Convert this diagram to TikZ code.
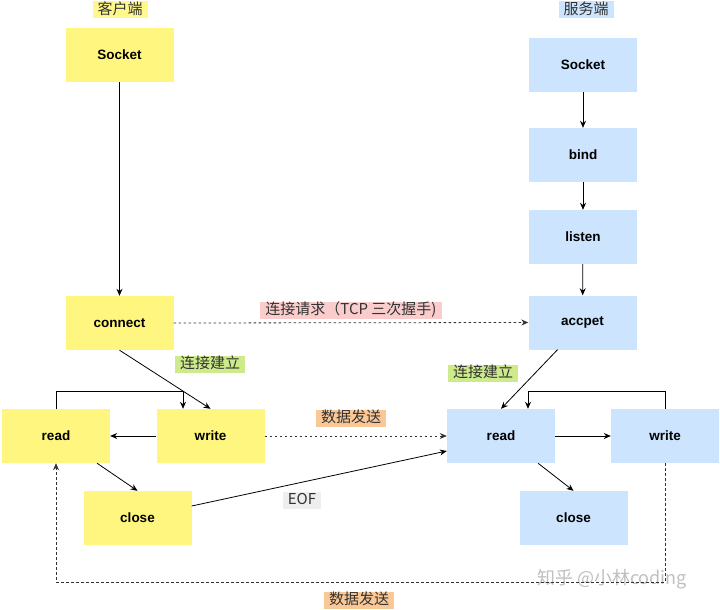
\documentclass[tikz,border=0pt]{standalone}
\usepackage{fontspec}
\setmainfont{Liberation Sans}
\newfontfamily\cjk{Noto Sans CJK SC}
\usetikzlibrary{arrows.meta,calc}
\definecolor{ybox}{RGB}{255,246,128}
\definecolor{bbox}{RGB}{204,228,253}
\definecolor{ylab}{RGB}{255,248,140}
\definecolor{blab}{RGB}{204,228,253}
\definecolor{glab}{RGB}{205,235,139}
\definecolor{plab}{RGB}{250,204,204}
\definecolor{olab}{RGB}{250,200,150}
\definecolor{elab}{RGB}{238,238,238}
\tikzset{
  boxbase/.style={minimum width=108pt,minimum height=54pt,inner sep=0pt,font=\fontsize{13.5}{15}\selectfont\bfseries},
  yb/.style={boxbase,fill=ybox},
  bb/.style={boxbase,fill=bbox},
  lab/.style={inner xsep=5pt,inner ysep=1pt,text height=12pt,text depth=3pt,font=\fontsize{15}{17}\selectfont\cjk,text=black!80},
  arr/.style={-{Stealth[length=7pt,width=6pt]},line width=0.8pt,black},
  darr/.style={arr,dash pattern=on 2.5pt off 2.5pt,black!80},
}
\begin{document}
\begin{tikzpicture}[x=1pt,y=-1pt]
\useasboundingbox (0,0) rectangle (720,610);
% client
\node[lab,fill=ylab] (lc) at (120,10) {客户端};
\node[yb] (csock) at (119.5,55) {Socket};
\node[yb] (conn) at (119.5,323) {connect};
\node[yb] (readc) at (56,436) {read};
\node[yb] (writec) at (210.5,436) {write};
\node[yb] (closec) at (137.5,518) {close};
% server
\node[lab,fill=blab] (ls) at (586,10) {服务端};
\node[bb] (ssock) at (583,65) {Socket};
\node[bb] (bind) at (583,155) {bind};
\node[bb] (listen) at (583,237) {listen};
\node[bb] (acc) at (582.5,322.5) {accpet};
\node[bb] (reads) at (501,436) {read};
\node[bb] (writes) at (665,436) {write};
\node[bb] (closes) at (573.5,518) {close};
% labels
\node[lab,fill=plab] (lreq) at (351,310) {连接请求（TCP 三次握手)};
\node[lab,fill=glab] (lest1) at (210,364) {连接建立};
\node[lab,fill=glab] (lest2) at (483,373) {连接建立};
\node[lab,fill=olab] (ld1) at (351,418) {数据发送};
\node[lab,fill=olab] (ld2) at (359,600) {数据发送};
\node[lab,fill=elab] (leof) at (302,500) {EOF};
\node[font=\fontsize{18}{20}\selectfont\cjk,text=black!25] (wm) at (612,579) {知乎 @小林coding};
\coordinate (loopc) at (183,391);
\coordinate (loops) at (528,391);
\coordinate (bot) at (360,582);
% client arrows
\draw[arr] (csock) -- (conn);
\draw[arr] (conn.south) -- (writec.north);
\draw[arr] (readc.north) |- (loopc) -- (loopc |- writec.north);
\draw[arr] (writec.west) -- (readc.east);
\draw[arr] ($(readc.south)+(41,0)$) -- (closec.north);
\draw[arr] ($(closec.east)+(0,-12)$) -- ($(reads.west)+(0,15)$);
% server arrows
\draw[arr] (ssock) -- (bind);
\draw[arr] (bind) -- (listen);
\draw[arr] (listen) -- (acc);
\draw[arr] ($(acc.south)+(-25,0)$) -- (reads.north);
\draw[arr] (reads.east) -- (writes.west);
\draw[arr] (writes.north) |- (loops) -- (loops |- reads.north);
\draw[arr] ($(reads.south)+(37,0)$) -- (closes.north);
% dashed
\draw[darr] (conn.east) -- (acc.west);
\draw[darr] (writec.east) -- (reads.west);
\draw[darr] (writes.south) |- (bot) -| (readc.south);
\end{tikzpicture}
\end{document}
